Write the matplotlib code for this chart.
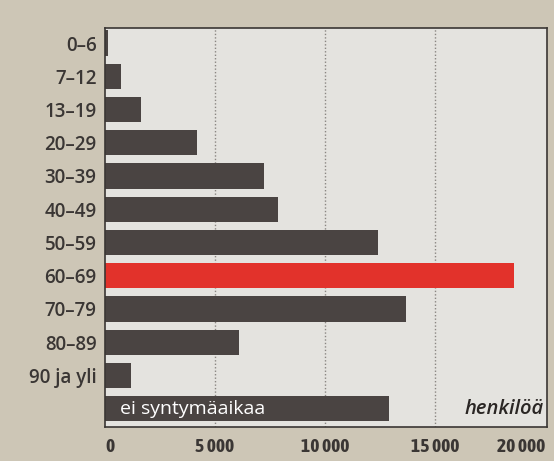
import matplotlib.pyplot as plt

# age groups (top to bottom) and number of persons
age_groups = ["0–6", "7–12", "13–19", "20–29", "30–39", "40–49",
              "50–59", "60–69", "70–79", "80–89", "90 ja yli", "ei syntymäaikaa"]
persons = [150, 720, 1650, 4200, 7250, 7850, 12400, 18600, 13700, 6100, 1200, 12900]
highlight = "60–69"

x_ticks = [0, 5000, 10000, 15000, 20000]
x_tick_labels = ["0", "5 000", "10 000", "15 000", "20 000"]

PAPER = "#cdc6b6"
PANEL = "#e4e3df"
DARK = "#4a4442"
RED = "#e2322b"
INK = "#3a3634"


def main():
    fig = plt.figure(figsize=(5.54, 4.61), dpi=100, facecolor=PAPER)
    ax = fig.add_axes([0.1895, 0.074, 0.798, 0.865])
    ax.set_facecolor(PANEL)

    pos = list(range(len(age_groups)))
    colors = [RED if g == highlight else DARK for g in age_groups]
    ax.barh(pos, persons, height=0.76, color=colors, zorder=2)

    ax.set_xlim(0, 20100)
    ax.set_ylim(len(age_groups) - 0.45, -0.45)

    # dotted gridlines
    for v in x_ticks[1:-1]:
        ax.axvline(v, color="#8a8682", linestyle=(0, (1, 1.5)), linewidth=1.0, zorder=1)

    ax.set_xticks(x_ticks)
    ax.set_xticklabels(x_tick_labels, family=["Asap Condensed", "DejaVu Sans"],
                       fontweight="bold", fontsize=14, color=INK)
    ax.set_yticks(pos[:-1])
    ax.set_yticklabels(age_groups[:-1], family="Open Sans", fontweight="semibold",
                       fontsize=13.5, color=INK)
    ax.tick_params(length=0, pad=6)
    ax.tick_params(axis="x", pad=8)
    labels = ax.get_xticklabels()
    labels[0].set_horizontalalignment("left")
    labels[-1].set_horizontalalignment("right")

    # label inside the last bar
    ax.text(700, pos[-1], age_groups[-1], color="white", fontsize=14,
            family="Open Sans", va="center", ha="left", zorder=3)
    ax.text(19950, pos[-1] + 0.02, "henkilöä", color="#2a2624", fontsize=14.5,
            family="Open Sans", fontweight="semibold", style="italic",
            va="center", ha="right", zorder=3)

    for side in ["left", "right", "top", "bottom"]:
        ax.spines[side].set_color(INK)
        ax.spines[side].set_linewidth(1.2)

    fig.savefig("out.png", dpi=100, facecolor=PAPER)


if __name__ == "__main__":
    main()
